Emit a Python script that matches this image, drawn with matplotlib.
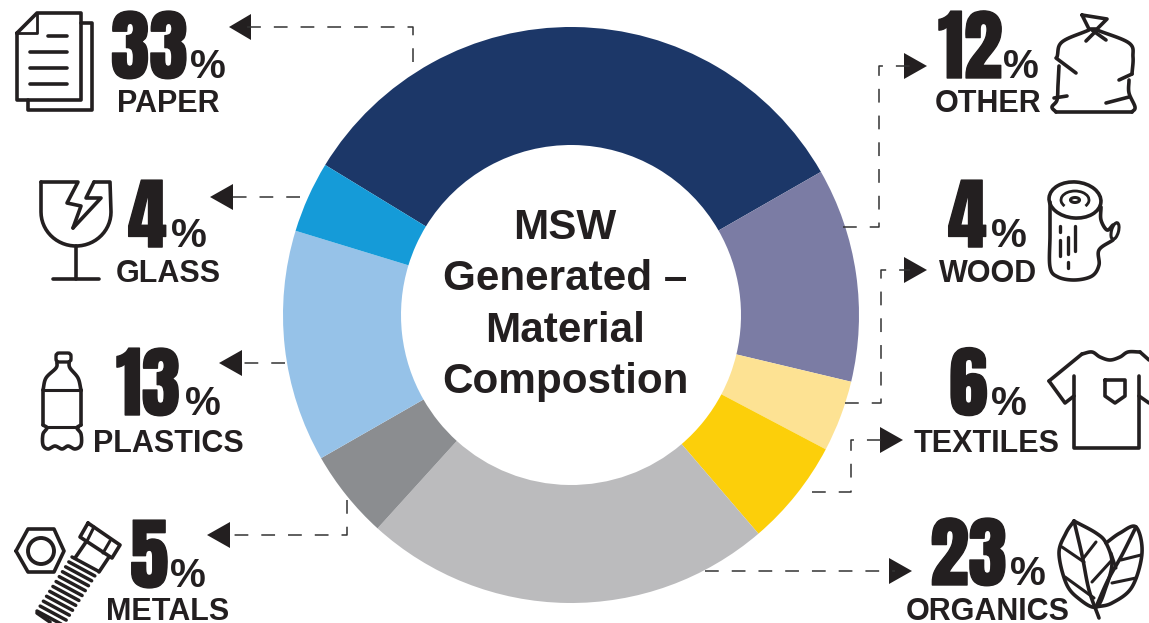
import numpy as np
import matplotlib
matplotlib.use("Agg")
import matplotlib.pyplot as plt
from matplotlib.patches import Circle, Ellipse, Arc, Polygon, FancyBboxPatch
import matplotlib.patheffects as pe

W, H = 1149, 623
DARK = "#231f20"

# Slices, clockwise from the top left
materials = ["PAPER", "OTHER", "WOOD", "TEXTILES", "ORGANICS", "METALS", "PLASTICS", "GLASS"]
shares = [33, 12, 4, 6, 23, 5, 13, 4]
colors = ["#1c3768", "#7b7ca4", "#fde293", "#fccf0a", "#bbbbbd", "#8b8d90", "#96c2e8", "#159bd8"]
center_lines = ["MSW", "Generated \u2013", "Material", "Compostion"]

fig = plt.figure(figsize=(W / 100, H / 100), dpi=100)

# donut
cx, cy, r = 571, 315, 288
ax_pie = fig.add_axes([(cx - r) / W, 1 - (cy + r) / H, 2 * r / W, 2 * r / H])
ax_pie.pie(shares, colors=colors, startangle=148.6, counterclock=False, radius=1,
           wedgeprops=dict(width=118 / 288, linewidth=0))
ax_pie.set_xlim(-1, 1)
ax_pie.set_ylim(-1, 1)

# everything else sits on an overlay in pixel coordinates
ax = fig.add_axes([0, 0, 1, 1], facecolor="none")
ax.set_xlim(0, W)
ax.set_ylim(H, 0)
ax.axis("off")

for txt, y in zip(center_lines, [239, 290, 342, 393]):
    ax.text(565, y, txt, ha="center", va="baseline", fontsize=30.4, fontweight="bold",
            family="Liberation Sans", color=DARK)


def stat(value, label, x_num, x_pct, base, x_label, base_label):
    t = ax.text(x_num, base, str(value), ha="left", va="baseline", fontsize=56,
                family=["Anton", "Liberation Sans"], color=DARK)
    t.set_path_effects([pe.withStroke(linewidth=1.0, foreground=DARK)])
    ax.text(x_pct, base, "%", ha="left", va="baseline", fontsize=29, fontweight="bold",
            family="Liberation Sans", color=DARK)
    ax.text(x_label, base_label, label, ha="center", va="baseline", fontsize=22, fontweight="bold",
            family="Liberation Sans", color=DARK)


stat(shares[0], materials[0], 111, 190, 78, 168, 112)
stat(shares[7], materials[7], 128, 171, 247, 168, 282)
stat(shares[6], materials[6], 116, 185, 415, 168, 452)
stat(shares[5], materials[5], 130, 170, 587, 168, 620)
stat(shares[1], materials[1], 938, 1003, 78, 988, 112)
stat(shares[2], materials[2], 948, 991, 247, 988, 282)
stat(shares[3], materials[3], 949, 991, 415, 987, 452)
stat(shares[4], materials[4], 930, 1010, 585, 988, 620)


def dashed(xs, ys):
    ax.plot(xs, ys, color="#333333", lw=1.1, dashes=(9, 8.5), solid_capstyle="butt")


def arrow(tip, base, y):
    ax.add_patch(Polygon([(tip, y), (base, y - 13), (base, y + 13)], closed=True, fc=DARK, ec="none"))


dashed([413, 413, 245], [62, 27, 27]); arrow(229, 251, 27)
dashed([300, 228], [197, 197]); arrow(210, 233, 197)
dashed([285, 235], [363, 363]); arrow(219, 242, 363)
dashed([347, 347, 225], [500, 535, 535]); arrow(207, 230, 535)
dashed([843, 879, 879, 910], [227, 227, 66, 66]); arrow(927, 904, 66)
dashed([845, 881, 881, 910], [403, 403, 270, 270]); arrow(927, 904, 270)
dashed([812, 851, 851, 885], [492, 492, 440, 440]); arrow(903, 880, 440)
dashed([705, 895], [571, 571]); arrow(912, 889, 571)


def line(pts, lw=2.6, closed=False):
    pts = list(pts)
    if closed:
        pts.append(pts[0])
    xs, ys = zip(*pts)
    ax.plot(xs, ys, color=DARK, lw=lw, solid_capstyle="round", solid_joinstyle="round")


def curve(pts, lw=2.6, n=12):
    # catmull-rom through the given outline points
    p = np.array(pts, float)
    p = np.vstack([2 * p[0] - p[1], p, 2 * p[-1] - p[-2]])
    out = []
    for i in range(1, len(p) - 2):
        for s in np.linspace(0, 1, n, endpoint=False):
            out.append(0.5 * (2 * p[i] + (p[i + 1] - p[i - 1]) * s
                              + (2 * p[i - 1] - 5 * p[i] + 4 * p[i + 1] - p[i + 2]) * s ** 2
                              + (3 * p[i] - p[i - 1] - 3 * p[i + 1] + p[i + 2]) * s ** 3))
    out.append(p[-2])
    line(out, lw=lw)


# paper icon
line([(17, 33), (37, 13), (81, 13), (81, 100), (17, 100)], closed=True)
line([(37, 13), (37, 33), (17, 33)], lw=2)
line([(81, 23), (92, 23), (92, 110), (28, 110), (28, 100)])
for x0, y in [(48, 36), (30, 52), (30, 68), (30, 84)]:
    line([(x0, y), (67, y)])

# glass icon
t = np.linspace(np.pi, 2 * np.pi, 30)
cup = [(41, 182)] + list(zip(76 + 35 * np.cos(t), 212 - 34 * np.sin(t))) + [(110, 182), (94, 182)]
line(cup)
line([(41, 182), (78, 182), (67, 203), (81, 206), (73, 228)])
line([(94, 182), (86, 198), (101, 198), (73, 228)])
line([(76, 246), (76, 279)])
line([(53, 279), (99, 279)])

# bottle icon
ax.add_patch(FancyBboxPatch((56, 353), 15, 9, boxstyle="round,pad=0,rounding_size=3", fc="none", ec=DARK, lw=2.4))
curve([(57, 362), (56, 368), (46, 378), (43, 390)])
curve([(69, 362), (70, 368), (78, 378), (81, 390)])
line([(43, 390), (43, 425)])
line([(81, 390), (81, 425)])
curve([(43, 425), (47, 428), (43, 434), (43, 445), (48, 449), (55, 446), (62, 449), (68, 446), (75, 449), (81, 445), (81, 434), (77, 428), (81, 425)])
line([(43, 390), (81, 390)], lw=2.2)
line([(46, 427), (78, 427)], lw=2.2)

# nut and bolt icon
line([(16, 551), (28, 529), (54, 529), (64, 551), (54, 572), (28, 572)], closed=True)
ax.add_patch(Circle((41, 551), 13, fc="none", ec=DARK, lw=2.8))
line([(88, 523), (120, 545), (112, 558), (80, 537)], closed=True)
line([(94, 527), (87, 541)], lw=2.2)
line([(110, 541), (103, 553)], lw=2.2)
line([(86, 542), (75, 558)])
line([(109, 557), (99, 572)])
for d in np.linspace(0, 1, 12):
    x0, y0 = 75 + (40 - 75) * d, 558 + (612 - 558) * d
    line([(x0 - 3, y0 - 1), (x0 + 23, y0 + 13)], lw=2.5)
line([(37, 613), (50, 622)], lw=2.6)

# bag icon
line([(1082, 15), (1107, 19), (1097, 29), (1089, 29)], closed=True)
line([(1086, 41), (1097, 30)])
line([(1106, 40), (1092, 30)])
curve([(1089, 30), (1062, 42), (1057, 57)])
line([(1056, 58), (1076, 73)])
curve([(1059, 66), (1058, 85), (1057, 100), (1052, 107), (1056, 112)])
line([(1056, 112), (1132, 112)])
curve([(1132, 112), (1135, 107), (1129, 93), (1129, 80)])
curve([(1097, 30), (1129, 43), (1133, 57), (1132, 74)])
line([(1132, 74), (1119, 80)])
line([(1054, 98), (1067, 96)])
line([(1106, 103), (1129, 97)])

# log icon
ax.add_patch(Ellipse((1075, 200), 52, 36, angle=5, fc="none", ec=DARK, lw=2.6))
ax.add_patch(Ellipse((1075, 200), 9, 5, fc="none", ec=DARK, lw=2.2))
ax.add_patch(Arc((1075, 200), 28, 18, theta1=150, theta2=390, ec=DARK, lw=2))
curve([(1050, 202), (1050, 235), (1050, 267), (1058, 277), (1075, 280), (1092, 276), (1099, 265), (1099, 250), (1113, 240)])
curve([(1101, 207), (1101, 220), (1107, 230), (1113, 225)])
ax.add_patch(Ellipse((1115, 231), 7, 17, angle=15, fc="none", ec=DARK, lw=2.2))
line([(1060, 226), (1060, 232)], lw=2.4)
line([(1060, 240), (1060, 256)], lw=2.4)
line([(1068, 237), (1068, 254)], lw=2.4)
line([(1075, 226), (1075, 251)], lw=2.4)
line([(1068, 262), (1068, 268)], lw=2.4)

# shirt icon
curve([(1082, 354), (1092, 352), (1100, 357), (1110, 360), (1120, 357), (1128, 352), (1140, 352)])
line([(1049, 381), (1082, 354)])
line([(1140, 352), (1149, 360)])
line([(1049, 381), (1065, 403), (1074, 396)])
line([(1074, 376), (1074, 448), (1139, 448), (1139, 376)])
line([(1139, 396), (1149, 403)])
line([(1105, 380), (1125, 380), (1125, 396), (1115, 403), (1105, 396)], closed=True)

# leaves icon
curve([(1074, 521), (1096, 533), (1106, 543), (1112, 563), (1106, 587), (1096, 607), (1078, 598), (1066, 583), (1059, 553), (1066, 533), (1074, 521)])
curve([(1106, 543), (1120, 533), (1136, 527), (1142, 553), (1132, 587), (1112, 603), (1096, 607)])
curve([(1074, 521), (1082, 555), (1089, 590), (1099, 618)])
curve([(1136, 527), (1122, 555), (1108, 580), (1096, 607)])
for seg in [[(1062, 547), (1084, 562)], [(1082, 560), (1096, 542)], [(1065, 577), (1094, 598)], [(1092, 582), (1112, 560)],
            [(1111, 553), (1116, 568)], [(1121, 560), (1141, 555)], [(1112, 583), (1136, 578)]]:
    line(seg, lw=2.2)

fig.savefig("out.png", dpi=100)
